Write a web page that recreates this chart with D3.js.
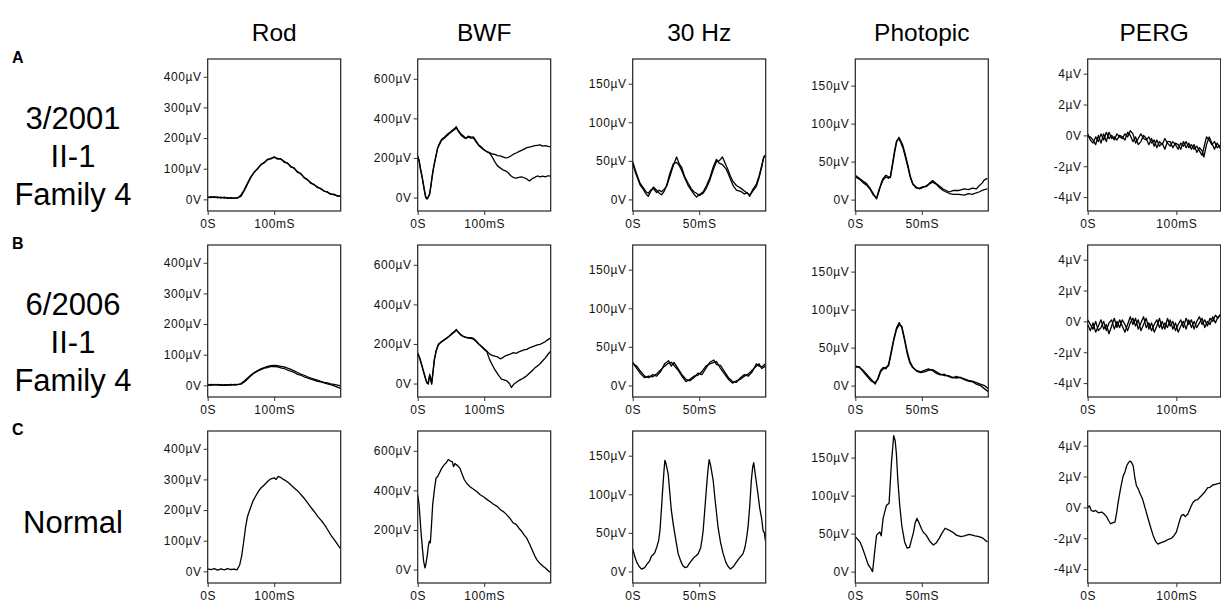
<!DOCTYPE html>
<html>
<head>
<meta charset="utf-8">
<script src="https://cdn.jsdelivr.net/npm/d3@7"></script>
<style>
  body { margin: 0; background: #fff; }
  svg { display: block; font-family: "Liberation Sans", Arial, sans-serif; }
</style>
</head>
<body>
<svg id="chart" width="1221" height="607"></svg>
<script>
// column / row labels
const colTitles = ["Rod", "BWF", "30 Hz", "Photopic", "PERG"];
const rowLetters = ["A", "B", "C"];
const rowLabels = [["3/2001", "II-1", "Family 4"], ["6/2006", "II-1", "Family 4"], ["Normal"]];

// axes per column
const xDomains = [[0, 200], [0, 200], [0, 100], [0, 100], [0, 150]];
const yDomains = [[-38, 458], [-68, 700], [-15, 182], [-15, 185], [-4.9, 4.95]];
const xTickVals = [[0, 100], [0, 100], [0, 50], [0, 50], [0, 100]];
const yTickVals = [[0, 100, 200, 300, 400], [0, 200, 400, 600], [0, 50, 100, 150], [0, 50, 100, 150], [-4, -2, 0, 2, 4]];

// traces: [time ms, value µV]
const rodA1 = [[0,8],[5,6],[10,9],[15,5],[20,7],[25,4],[30,6],[35,3],[40,5],[45,4],[50,14],[55,32],[60,54],[65,74],[70,88],[75,101],[80,112],[85,121],[90,129],[95,134],[100,137],[105,134],[110,131],[115,124],[120,117],[125,108],[130,101],[135,91],[140,83],[145,72],[150,63],[155,55],[160,47],[165,41],[170,34],[175,28],[180,23],[185,18],[190,15],[195,12],[200,10]];
const rodA2 = [[0,5],[5,9],[10,6],[15,8],[20,4],[25,7],[30,3],[35,6],[40,3],[45,6],[50,10],[55,28],[60,50],[65,72],[70,90],[75,99],[80,114],[85,119],[90,131],[95,132],[100,139],[105,131],[110,133],[115,121],[120,119],[125,105],[130,103],[135,88],[140,85],[145,70],[150,65],[155,52],[160,49],[165,38],[170,36],[175,26],[180,25],[185,16],[190,17],[195,10],[200,12]];
const rodB1 = [[0,2],[5,0],[10,3],[15,1],[20,2],[25,0],[30,2],[35,1],[40,3],[45,2],[50,6],[55,14],[60,24],[65,34],[70,42],[75,48],[80,54],[85,58],[90,62],[95,64],[100,65],[105,64],[110,62],[115,60],[120,56],[125,52],[130,47],[135,42],[140,37],[145,33],[150,28],[155,24],[160,20],[165,17],[170,13],[175,10],[180,8],[185,5],[190,3],[195,1],[200,-2]];
const rodB2 = [[0,0],[5,3],[10,1],[15,3],[20,0],[25,2],[30,1],[35,3],[40,1],[45,3],[50,4],[55,11],[60,21],[65,31],[70,40],[75,46],[80,51],[85,56],[90,58],[95,62],[100,61],[105,60],[110,57],[115,55],[120,50],[125,46],[130,42],[135,36],[140,33],[145,28],[150,24],[155,20],[160,17],[165,13],[170,11],[175,8],[180,5],[185,2],[190,-2],[195,-6],[200,-10]];
const rodC = [[0,8],[5,6],[10,9],[15,4],[20,8],[25,5],[30,9],[35,6],[40,7],[44,5],[48,20],[51,49],[54,95],[57,145],[60,180],[64,205],[68,229],[72,245],[76,260],[80,272],[85,282],[90,293],[95,302],[100,305],[103,300],[106,310],[110,306],[114,300],[118,295],[122,288],[126,280],[130,272],[134,265],[138,256],[142,246],[146,236],[150,224],[154,212],[158,201],[162,190],[166,178],[170,168],[174,157],[178,144],[182,130],[186,116],[190,104],[194,92],[197,82],[200,73]];

const bwfA1 = [[0,210],[2,190],[4,150],[6,118],[8,80],[10,40],[12,5],[14,-5],[16,5],[18,17],[20,60],[22,110],[24,151],[27,200],[30,252],[33,275],[36,294],[40,305],[44,318],[48,328],[52,340],[56,350],[58,358],[60,345],[63,330],[66,318],[69,311],[72,300],[76,310],[80,305],[84,306],[88,285],[92,265],[96,255],[100,240],[104,232],[108,227],[112,220],[116,218],[120,212],[124,210],[128,205],[132,200],[136,202],[140,210],[144,219],[148,225],[152,232],[156,238],[160,245],[164,252],[168,255],[172,258],[176,262],[180,264],[184,266],[188,260],[192,262],[196,258],[200,256]];
const bwfA2 = [[0,205],[2,185],[4,145],[6,112],[8,75],[10,35],[12,0],[14,-8],[16,2],[18,20],[20,65],[22,115],[24,155],[27,205],[30,248],[33,270],[36,290],[40,300],[44,312],[48,325],[52,335],[56,345],[58,352],[60,340],[63,325],[66,312],[69,305],[72,298],[76,305],[80,300],[84,300],[88,280],[92,262],[96,250],[100,240],[104,232],[108,224],[112,205],[116,180],[120,160],[124,150],[128,140],[132,135],[136,125],[140,110],[144,101],[148,98],[152,102],[156,104],[160,100],[164,94],[168,84],[172,95],[176,102],[180,109],[184,105],[188,108],[192,104],[196,110],[200,108]];
const bwfB1 = [[0,156],[3,130],[6,97],[9,60],[12,25],[14,5],[16,-3],[18,47],[20,20],[21,-3],[23,60],[25,122],[28,170],[31,198],[35,210],[40,222],[44,231],[48,242],[52,255],[56,265],[58,273],[60,265],[64,250],[68,240],[72,235],[76,232],[80,232],[84,228],[88,215],[92,200],[96,189],[100,176],[104,164],[108,150],[112,142],[116,138],[120,135],[124,125],[128,131],[132,140],[136,145],[140,150],[144,156],[148,152],[152,160],[156,165],[160,170],[164,173],[168,180],[172,185],[176,190],[180,195],[184,198],[188,205],[192,212],[196,222],[200,231]];
const bwfB2 = [[0,150],[3,126],[6,92],[9,55],[12,20],[14,2],[16,8],[18,40],[20,12],[21,0],[23,55],[25,118],[28,166],[31,195],[35,208],[40,220],[44,229],[48,240],[52,252],[56,262],[58,270],[60,262],[64,247],[68,238],[72,233],[76,230],[80,228],[84,224],[88,212],[92,198],[96,186],[100,172],[104,160],[108,122],[112,95],[116,70],[119,55],[122,40],[126,22],[130,18],[134,13],[138,0],[141,-20],[144,-5],[148,5],[152,15],[156,22],[160,30],[164,39],[168,52],[172,65],[176,78],[180,89],[184,100],[188,115],[192,130],[196,148],[200,164]];
const bwfC = [[0,377],[2,330],[3.5,260],[5,190],[7.5,92],[9,40],[11,8],[12.5,30],[14.5,75],[16,120],[17.5,143],[19,135],[20.5,210],[22.5,327],[25,400],[27.5,461],[30,470],[33,490],[36,511],[40,530],[43,540],[46,556],[49,548],[52,545],[54,520],[56,536],[58,530],[60,525],[63.6,511],[67,480],[70,455],[73.6,436],[78,420],[83,408],[88.7,394],[94,378],[100,365],[105,352],[108.7,344],[114,330],[120,318],[125,300],[128.7,293],[133,280],[138,262],[143.8,235],[148,228],[152,210],[156,195],[160,175],[163.9,159],[168,130],[172,100],[176,70],[179,50],[184,30],[188,18],[192,8],[196,-5],[198,-12],[200,-10]];

const hz30A1 = [[0,49],[2,38],[4,28],[5.5,21],[8,15],[10,10],[11.7,8],[13.5,12],[15.5,14],[18,9],[20,12],[21.7,10],[23.5,13],[25.5,17],[28,30],[30.5,44],[33,55],[35,46],[36.7,42],[39,30],[41.7,21],[44,14],[46,10],[48,8],[50,5],[53,8],[55.5,15],[58,25],[60.5,38],[63,49],[65,50],[67.5,55],[70,45],[71.7,38],[73.5,30],[75.5,23],[78,18],[81.7,14],[84,11],[86,8],[88,6],[90,10],[93,17],[95,28],[97,42],[98.5,55],[100,58]];
const hz30A2 = [[0,47],[2,35],[4,26],[5.5,19],[8,13],[10,7],[11.7,4],[13.5,10],[15.5,16],[18,12],[20,8],[21.7,6],[23.5,10],[25.5,18],[28,34],[30.5,46],[33,48],[35,44],[36.7,38],[39,28],[41.7,18],[44,12],[46,7],[48,3],[50,6],[53,10],[55.5,18],[58,28],[60.5,42],[63,52],[65,47],[67.5,45],[70,40],[71.7,34],[73.5,26],[75.5,18],[78,12],[81.7,10],[84,7],[86,9],[88,4],[90,12],[93,20],[95,30],[97,44],[98.5,54],[100,57]];
const hz30B1 = [[0,28],[3,25],[6,18],[9,12],[12,10],[15,14],[18,12],[21,18],[24,28],[27,32],[29,25],[31,30],[34,22],[37,14],[40,8],[43,6],[46,10],[49,16],[52,14],[55,22],[58,30],[61,33],[63,27],[66,26],[69,18],[72,10],[75,5],[78,4],[81,10],[84,14],[87,12],[90,18],[93,28],[95,25],[97,24],[100,28]];
const hz30B2 = [[0,30],[3,22],[6,15],[9,10],[12,12],[15,11],[18,15],[21,20],[24,25],[27,29],[29,30],[31,26],[34,20],[37,12],[40,5],[43,8],[46,12],[49,13],[52,18],[55,25],[58,28],[61,30],[63,31],[66,22],[69,15],[72,8],[75,3],[78,6],[81,8],[84,12],[87,15],[90,20],[93,25],[95,28],[97,22],[100,25]];
const hz30C = [[0,29],[1.5,20],[3,12],[5,6],[6.7,3],[9,5],[11,10],[12.5,13],[14.2,20],[15.5,22],[16.5,24],[18,31],[19.5,40],[20.5,53],[21.5,78],[22.5,105],[23.5,130],[24.2,144],[25,140],[26.7,126],[28,100],[29,80],[30.5,61],[32.5,40],[34.2,23],[36,14],[37.5,8],[39.2,5],[41,6],[42.5,10],[44.2,14],[46,18],[47.5,20],[49.2,23],[51,30],[52,40],[53,53],[54.2,80],[55.5,109],[56.5,130],[57.5,145],[58.5,138],[60.5,118],[62,92],[64.2,57],[66,38],[68,23],[70,12],[71.5,7],[73.5,3],[75.5,6],[78,12],[80,17],[81.5,20],[83,23],[84.5,32],[85.5,42],[86.7,57],[88,85],[89.2,118],[90.2,135],[91,141],[92,128],[93,115],[94.2,100],[95.5,82],[97,68],[98,53],[99,50],[99.8,40]];

const phA1 = [[0,32],[3,28],[6,24],[8.5,21],[11,15],[13.5,8],[16,1],[18,12],[19.7,23],[21,28],[23,32],[25,30],[26.4,29],[28,45],[29.6,62],[31,75],[32.8,82],[34,78],[35.8,71],[37.5,60],[39.6,45],[41.5,30],[43.3,21],[46,16],[48.3,14],[51,16],[53.3,18],[56,22],[58.2,25],[61,21],[63.2,18],[66,14],[70.7,10],[74,12],[78,12],[82,14],[85,13],[88,15],[91,14],[93,18],[95.5,22],[97,26],[99.3,28]];
const phA2 = [[0,30],[3,27],[6,22],[8.5,19],[11,14],[13.5,6],[16,2],[18,14],[19.7,21],[21,26],[23,30],[25,28],[26.4,31],[28,48],[29.6,65],[31,77],[32.8,80],[34,76],[35.8,68],[37.5,57],[39.6,42],[41.5,28],[43.3,20],[46,15],[48.3,15],[51,17],[53.3,17],[56,21],[58.2,23],[61,20],[63.2,16],[66,12],[70.7,8],[74,7],[78,7],[82,6],[85,8],[88,7],[91,9],[93,10],[95.5,12],[97,13],[99.3,14]];
const phB1 = [[0,26],[3,24],[6,20],[9,14],[12,8],[15,2],[17,10],[19,20],[21,24],[23,22],[25,28],[27,45],[29,62],[31,76],[33,83],[35,76],[37,60],[39,42],[41,30],[43,24],[46,20],[49,18],[52,20],[55,22],[58,20],[61,16],[64,14],[67,15],[70,12],[73,10],[76,12],[79,10],[82,8],[85,6],[88,5],[91,2],[94,0],[97,-4],[100,-8]];
const phB2 = [[0,24],[3,25],[6,18],[9,12],[12,6],[15,4],[17,8],[19,18],[21,22],[23,24],[25,26],[27,42],[29,60],[31,74],[33,80],[35,78],[37,62],[39,45],[41,32],[43,25],[46,19],[49,17],[52,18],[55,20],[58,21],[61,18],[64,15],[67,13],[70,13],[73,11],[76,10],[79,11],[82,9],[85,7],[88,6],[91,4],[94,2],[97,0],[100,-4]];
const phC = [[0,46],[2,42],[3.5,39],[5,33],[7.2,22],[9.7,9],[11,6],[13,0],[14.5,25],[16,48],[18.4,52],[19.5,47],[20.9,70],[23.4,87],[25.4,90],[27.2,144],[28.9,179],[30,172],[30.9,155],[32,120],[33.4,87],[35,60],[37.1,39],[39,31],[40.8,32],[42,40],[43.8,52],[45,64],[46.3,70],[47.5,66],[49.6,57],[51,52],[53.3,48],[56,40],[58.7,35],[61,38],[63.2,44],[65,50],[67.5,57],[70,55],[73.1,52],[76,48],[79.4,46],[82,47],[85.6,49],[88,48],[90,47],[93,46],[96,44],[99.3,39]];

const pergA1 = [[0,0.1],[3,-0.3],[6,-0.5],[9,-0.1],[12,-0.4],[15,0.1],[18,-0.3],[21,0.2],[24,-0.2],[27,0],[30,-0.3],[33,0.1],[36,-0.1],[39,-0.2],[42,0.1],[45,-0.1],[48,0.3],[51,0.1],[54,-0.5],[57,-0.2],[60,0.1],[63,-0.2],[66,-0.3],[69,-0.1],[72,-0.5],[75,-0.3],[78,-0.8],[81,-0.4],[84,-0.6],[87,-0.2],[90,-0.5],[93,-0.7],[96,-0.4],[99,-0.6],[102,-0.9],[105,-0.5],[108,-0.7],[111,-0.4],[114,-0.8],[117,-0.6],[120,-0.9],[123,-0.7],[126,-1.0],[129,-1.3],[131,-0.8],[134,-0.1],[137,-0.3],[140,-0.6],[143,-0.4],[146,-0.8],[150,-0.6]];
const pergA2 = [[0,-0.1],[3,-0.1],[6,-0.3],[9,-0.6],[12,0],[15,-0.5],[18,0.1],[21,-0.4],[24,0.2],[27,-0.2],[30,-0.1],[33,-0.3],[36,0],[39,-0.1],[42,-0.3],[45,0.2],[48,0],[51,-0.4],[54,-0.1],[57,-0.6],[60,-0.4],[63,0],[66,-0.2],[69,-0.6],[72,-0.2],[75,-0.7],[78,-0.3],[81,-0.7],[84,-0.5],[87,-0.9],[90,-0.4],[93,-0.4],[96,-0.8],[99,-0.5],[102,-0.6],[105,-0.9],[108,-0.4],[111,-0.8],[114,-0.5],[117,-0.9],[120,-0.6],[123,-1.1],[126,-0.8],[129,-1.0],[131,-1.4],[134,-0.6],[137,-0.1],[140,-0.5],[143,-0.9],[146,-0.5],[150,-0.9]];
const pergB1 = [[0,-0.2],[3,-0.6],[6,-0.1],[9,-0.7],[12,-0.3],[15,0.1],[18,-0.5],[21,-0.2],[24,-0.8],[27,-0.3],[30,0.2],[33,-0.4],[36,0.1],[39,-0.3],[42,-0.7],[45,-0.2],[48,0.3],[51,-0.2],[54,0.2],[57,-0.5],[60,-0.1],[63,0.3],[66,-0.4],[69,-0.1],[72,-0.6],[75,-0.2],[78,0.1],[81,-0.4],[84,0],[87,-0.5],[90,0.2],[93,-0.3],[96,0],[99,-0.6],[102,-0.2],[105,0.1],[108,-0.4],[111,0.2],[114,-0.2],[117,0.1],[120,-0.5],[123,0],[126,0.3],[129,-0.2],[132,0.1],[135,-0.3],[138,0.2],[141,0],[144,0.4],[147,0.2],[150,0.5]];
const pergB2 = [[0,0.1],[3,-0.2],[6,-0.5],[9,0],[12,-0.6],[15,-0.4],[18,0],[21,-0.6],[24,-0.1],[27,0.1],[30,-0.5],[33,0],[36,-0.4],[39,0.1],[42,-0.2],[45,-0.6],[48,-0.1],[51,0.2],[54,-0.3],[57,0.1],[60,-0.6],[63,-0.2],[66,0.2],[69,-0.5],[72,-0.1],[75,-0.7],[78,-0.3],[81,0.2],[84,-0.5],[87,-0.1],[90,-0.4],[93,0.1],[96,-0.5],[99,-0.1],[102,-0.7],[105,-0.3],[108,0],[111,-0.5],[114,0.1],[117,-0.4],[120,0],[123,-0.4],[126,-0.1],[129,0.2],[132,-0.4],[135,0],[138,-0.2],[141,0.3],[144,-0.1],[147,0.3],[150,0.4]];
const pergC = [[0,0],[2,0.1],[4,-0.2],[6.4,-0.26],[9,-0.2],[12,-0.35],[15.7,-0.3],[18,-0.4],[21.3,-0.6],[23.5,-0.85],[25.8,-1.06],[28,-1.0],[30.7,-0.96],[32.5,-0.4],[34.4,0.34],[37,1.2],[40,2.04],[42,2.3],[44,2.7],[46,2.9],[47.5,3.0],[49,2.95],[51.3,2.7],[53,2.0],[55,1.4],[57,1.2],[59,0.9],[61.8,0.55],[65,-0.1],[68.1,-0.72],[71,-1.3],[73.7,-1.8],[76.5,-2.2],[79.3,-2.38],[82,-2.3],[84.5,-2.25],[86.9,-2.2],[90,-2.1],[92,-2.05],[94.4,-2.0],[97,-1.85],[100,-1.6],[102,-1.2],[104,-0.8],[105.6,-0.53],[108,-0.45],[110,-0.6],[113,-0.43],[116,0],[118.7,0.32],[121,0.45],[124,0.5],[126.2,0.64],[129,0.8],[132,1.0],[135.5,1.28],[138,1.3],[141,1.45],[145,1.5],[148,1.55],[150,1.6]];

// panel grid: rows x columns of trace lists
const panels = [
  [[rodA1, rodA2], [bwfA1, bwfA2], [hz30A1, hz30A2], [phA1, phA2], [pergA1, pergA2]],
  [[rodB1, rodB2], [bwfB1, bwfB2], [hz30B1, hz30B2], [phB1, phB2], [pergB1, pergB2]],
  [[rodC], [bwfC], [hz30C], [phC], [pergC]]
];

// layout
const plotLeft = [207.7, 417.7, 632.7, 855.3, 1087.7];
const plotTop = [59, 245, 431];
const pw = 133, ph = 152;

const svg = d3.select("#chart");

// column titles
svg.selectAll("text.coltitle")
  .data(colTitles)
  .join("text")
  .attr("class", "coltitle")
  .attr("x", (d, i) => plotLeft[i] + pw / 2)
  .attr("y", 41)
  .attr("text-anchor", "middle")
  .style("font-size", "24.5px")
  .attr("fill", "#000")
  .text(d => d);

// row letters + labels
rowLetters.forEach((letter, r) => {
  svg.append("text")
    .attr("x", 12)
    .attr("y", plotTop[r] + 4)
    .style("font-size", "16px")
    .style("font-weight", "bold")
    .text(letter);

  const lines = rowLabels[r];
  const lineH = 38;
  const baseY = lines.length === 1 ? plotTop[r] + 102 : plotTop[r] + 70;
  lines.forEach((t, k) => {
    svg.append("text")
      .attr("x", 73)
      .attr("y", baseY + k * lineH)
      .attr("text-anchor", "middle")
      .style("font-size", "31px")
      .text(t);
  });
});

const fmtY = (v) => v === 0 ? "0V" : `${v}µV`;
const fmtX = (v) => v === 0 ? "0S" : `${v}mS`;

panels.forEach((row, r) => {
  row.forEach((traces, c) => {
    const g = svg.append("g")
      .attr("transform", `translate(${plotLeft[c]},${plotTop[r]})`);

    const x = d3.scaleLinear().domain(xDomains[c]).range([0, pw]);
    const y = d3.scaleLinear().domain(yDomains[c]).range([ph, 0]);

    // clip so traces stay inside box
    const clipId = `clip-${r}-${c}`;
    g.append("clipPath").attr("id", clipId)
      .append("rect").attr("width", pw).attr("height", ph);

    const line = d3.line().x(d => x(d[0])).y(d => y(d[1]));

    g.append("g")
      .attr("clip-path", `url(#${clipId})`)
      .selectAll("path")
      .data(traces)
      .join("path")
      .attr("d", line)
      .attr("fill", "none")
      .attr("stroke", "#000")
      .attr("stroke-width", 1.3)
      .attr("stroke-linejoin", "round");

    // frame
    g.append("rect")
      .attr("width", pw).attr("height", ph)
      .attr("fill", "none")
      .attr("stroke", "#222")
      .attr("stroke-width", 1.2);

    const yAxis = d3.axisLeft(y)
      .tickValues(yTickVals[c])
      .tickFormat(fmtY)
      .tickSizeInner(4).tickSizeOuter(0).tickPadding(2);
    const ya = g.append("g").call(yAxis);
    ya.select(".domain").remove();

    const xAxis = d3.axisBottom(x)
      .tickValues(xTickVals[c])
      .tickFormat(fmtX)
      .tickSizeInner(4).tickSizeOuter(0).tickPadding(4);
    const xa = g.append("g").attr("transform", `translate(0,${ph})`).call(xAxis);
    xa.select(".domain").remove();

    [ya, xa].forEach(a => {
      a.selectAll("text")
        .style("font-family", '"Liberation Sans", Arial, sans-serif')
        .style("font-size", "12px")
        .style("letter-spacing", "0.6px")
        .attr("fill", "#111");
      a.selectAll("line").attr("stroke", "#333");
    });
  });
});
</script>
</body>
</html>
